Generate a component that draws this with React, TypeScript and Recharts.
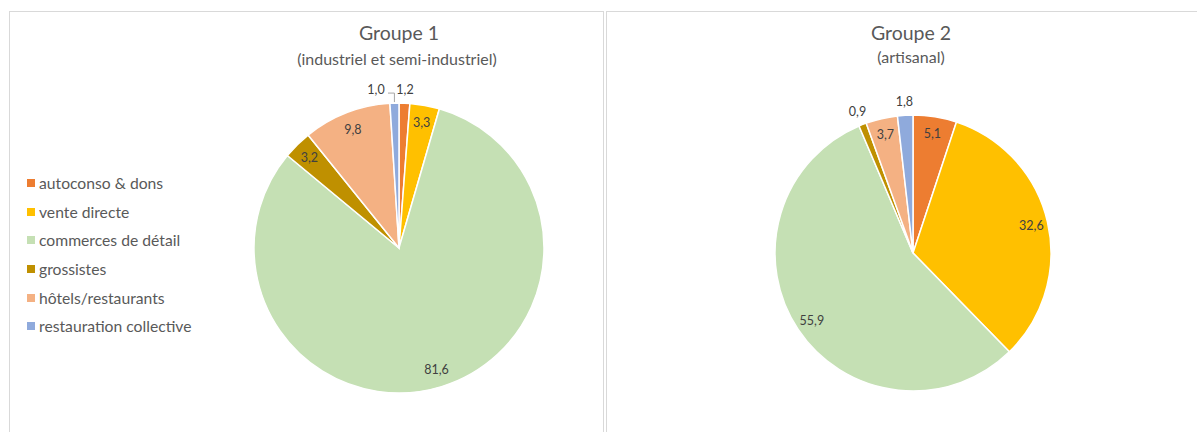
import React from 'react';
import { PieChart, Pie, Cell, Legend } from 'recharts';

const categories = [
  'autoconso & dons',
  'vente directe',
  'commerces de détail',
  'grossistes',
  'hôtels/restaurants',
  'restauration collective',
];
const groupe1Values = [1.2, 3.3, 81.6, 3.2, 9.8, 1.0];
const groupe2Values = [5.1, 32.6, 55.9, 0.9, 3.7, 1.8];
const colors = ['#ED7D31', '#FFC000', '#C5E0B4', '#BF9000', '#F4B183', '#8FAADC'];

const data1 = categories.map((name, i) => ({ name, value: groupe1Values[i] }));
const data2 = categories.map((name, i) => ({ name, value: groupe2Values[i] }));

const FONT = 'Lato, "Open Sans", sans-serif';
const RAD = Math.PI / 180;

const fmt = (v: number) => v.toFixed(1).replace('.', ',');

const makeLabel = (shifts: Record<number, number>) => (props: any) => {
  const { cx, cy, midAngle, outerRadius, value, index } = props;
  const small = value < 2;
  const r = small ? outerRadius + 14 : outerRadius * 0.88;
  let x = cx + r * Math.cos(-midAngle * RAD);
  const y = cy + r * Math.sin(-midAngle * RAD);
  const shift = shifts[index];
  let line = null;
  if (shift) {
    const ex = cx + (outerRadius + 1) * Math.cos(-midAngle * RAD);
    const ey = cy + (outerRadius + 1) * Math.sin(-midAngle * RAD);
    x = x + shift;
    line = (
      <polyline
        points={`${x + 12},${y + 4} ${ex},${y + 4} ${ex},${ey}`}
        fill="none"
        stroke="#A6A6A6"
        strokeWidth={1}
      />
    );
  }
  return (
    <g key={`lbl-${index}`}>
      {line}
      <text
        x={x}
        y={y}
        textAnchor="middle"
        dominantBaseline="central"
        fill="#404040"
        fontSize={12.5}
        fontFamily={FONT}
      >
        {fmt(value)}
      </text>
    </g>
  );
};

const LegendContent = () => (
  <div style={{ fontFamily: FONT }}>
    {categories.map((c, i) => (
      <div
        key={c}
        style={{
          display: 'flex',
          alignItems: 'center',
          height: 28.6,
          fontSize: 15.7,
          color: '#595959',
          whiteSpace: 'nowrap',
        }}
      >
        <span
          style={{
            display: 'inline-block',
            width: 8,
            height: 8,
            background: colors[i],
            marginRight: 4,
          }}
        />
        {c}
      </div>
    ))}
  </div>
);

const frame = (left: number, width: number): React.CSSProperties => ({
  position: 'absolute',
  left,
  top: 11,
  width,
  height: 440,
  border: '1px solid #D9D9D9',
  boxSizing: 'border-box',
});

const titleStyle = (cx: number, top: number, size: number): React.CSSProperties => ({
  position: 'absolute',
  left: cx - 200,
  width: 400,
  top,
  textAlign: 'center',
  fontSize: size,
  color: '#595959',
  fontFamily: FONT,
  lineHeight: 1,
  whiteSpace: 'nowrap',
});

export default function App() {
  return (
    <div
      style={{
        position: 'absolute',
        left: 0,
        top: 0,
        width: 1197,
        height: 432,
        overflow: 'hidden',
        background: '#fff',
      }}
    >
      <div style={frame(9, 595)} />
      <div style={frame(606, 600)} />
      <div style={titleStyle(399, 23, 19.5)}>Groupe 1</div>
      <div style={titleStyle(397, 51, 16)}>(industriel et semi-industriel)</div>
      <div style={titleStyle(911, 23, 19.5)}>Groupe 2</div>
      <div style={titleStyle(911, 49, 16)}>(artisanal)</div>
      <div style={{ position: 'absolute', left: 0, top: 0 }}>
        <PieChart width={1197} height={432} margin={{ top: 0, right: 0, bottom: 0, left: 0 }}>
          <Pie
            data={data1}
            dataKey="value"
            nameKey="name"
            cx={399}
            cy={248}
            outerRadius={145}
            startAngle={90}
            endAngle={-270}
            stroke="#FFFFFF"
            strokeWidth={1.5}
            labelLine={false}
            label={makeLabel({ 5: -18 })}
            isAnimationActive={false}
          >
            {data1.map((d, i) => (
              <Cell key={d.name} fill={colors[i]} />
            ))}
          </Pie>
          <Pie
            data={data2}
            dataKey="value"
            nameKey="name"
            cx={913}
            cy={253}
            outerRadius={138}
            startAngle={90}
            endAngle={-270}
            stroke="#FFFFFF"
            strokeWidth={1.5}
            labelLine={false}
            label={makeLabel({})}
            isAnimationActive={false}
          >
            {data2.map((d, i) => (
              <Cell key={d.name} fill={colors[i]} />
            ))}
          </Pie>
          <Legend
            content={<LegendContent />}
            wrapperStyle={{ position: 'absolute', left: 27, top: 169, width: 200 }}
          />
        </PieChart>
      </div>
    </div>
  );
}
